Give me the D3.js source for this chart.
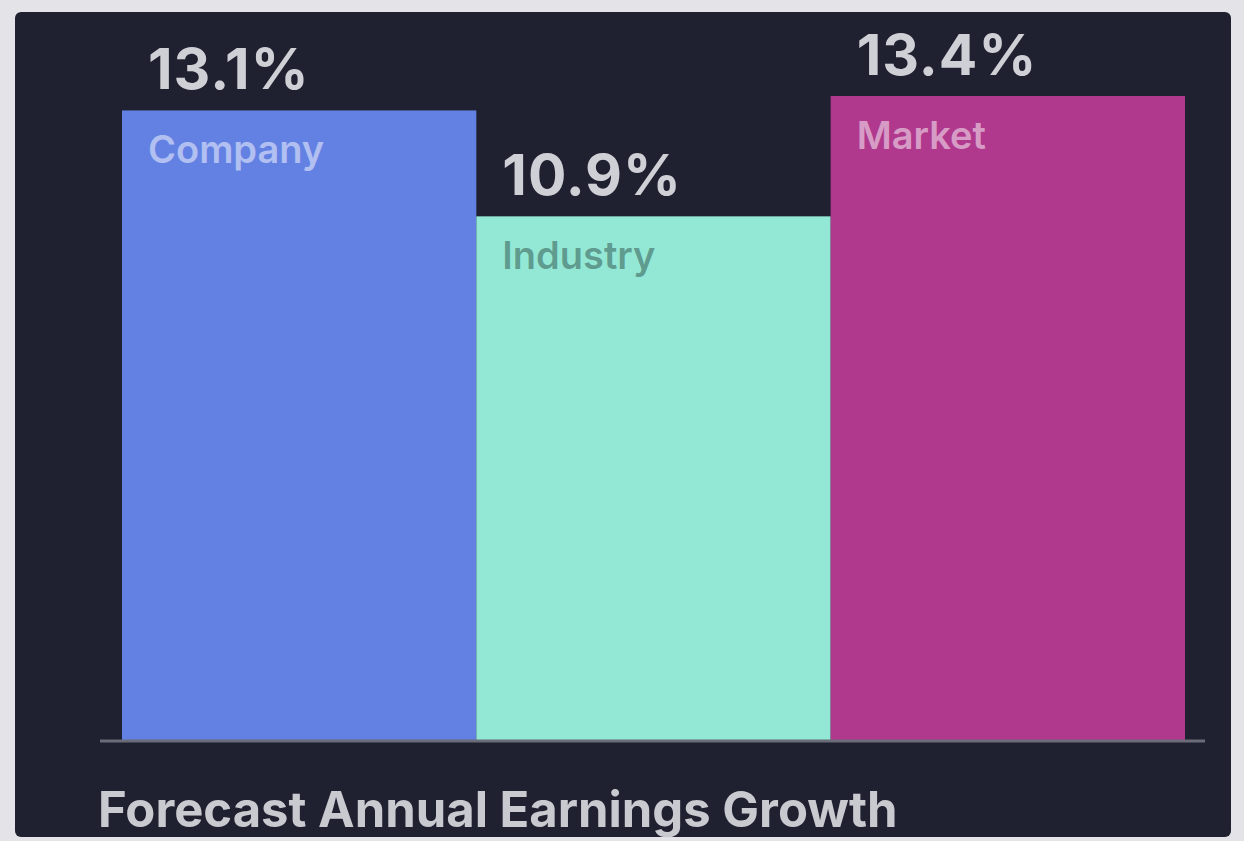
<!DOCTYPE html>
<html>
<head>
<meta charset="utf-8">
<script src="https://cdn.jsdelivr.net/npm/d3@7/dist/d3.min.js"></script>
<style>
  html, body { margin: 0; padding: 0; background: #e4e4e8; }
  svg { display: block; }
</style>
</head>
<body>
<svg id="chart" width="1244" height="841"></svg>
<script>
// Forecast annual earnings growth, % per year
const categories = ["Company", "Industry", "Market"];
const growthValues = [13.1, 10.9, 13.4];
const valueLabels = ["13.1%", "10.9%", "13.4%"];
const barColors = ["#6381e3", "#93e8d5", "#b0398e"];
const nameColors = ["rgba(255,255,255,0.5)", "rgba(30,60,55,0.45)", "rgba(255,255,255,0.5)"];
const chartTitle = "Forecast Annual Earnings Growth";

const W = 1244, H = 841;
const svg = d3.select("#chart");
const font = "Inter, 'Open Sans', Roboto, sans-serif";

// dark card
svg.append("rect")
  .attr("x", 15).attr("y", 12)
  .attr("width", W - 28).attr("height", H - 16)
  .attr("rx", 6)
  .attr("fill", "#1f2130");

const x = d3.scaleBand()
  .domain(categories)
  .range([122, 1185])
  .paddingInner(0);

const y = d3.scaleLinear()
  .domain([0, d3.max(growthValues)])
  .range([741, 96]);

const rows = categories.map((c, i) => ({
  name: c, value: growthValues[i], label: valueLabels[i],
  color: barColors[i], nameColor: nameColors[i]
}));

// bars
svg.append("g").selectAll("rect")
  .data(rows)
  .join("rect")
  .attr("x", d => x(d.name))
  .attr("y", d => y(d.value))
  .attr("width", x.bandwidth())
  .attr("height", d => y(0) - y(d.value))
  .attr("fill", d => d.color);

// baseline
const axis = d3.axisBottom(x).tickSize(0).tickFormat("");
const axisG = svg.append("g")
  .attr("transform", `translate(0,${y(0)})`)
  .call(axis);
axisG.select(".domain")
  .attr("d", "M100,0H1205")
  .attr("stroke", "#6a6c78")
  .attr("stroke-width", 3);

// value labels above bars
svg.append("g").selectAll("text")
  .data(rows)
  .join("text")
  .attr("x", d => x(d.name) + 26)
  .attr("y", d => y(d.value) - 21)
  .attr("font-family", font)
  .attr("font-weight", 700)
  .attr("font-size", 57)
  .attr("letter-spacing", 1)
  .attr("fill", "#cfd0d6")
  .text(d => d.label);

// category names inside bars
svg.append("g").selectAll("text")
  .data(rows)
  .join("text")
  .attr("x", d => x(d.name) + 26)
  .attr("y", d => y(d.value) + 53)
  .attr("font-family", font)
  .attr("font-weight", 600)
  .attr("font-size", 38)
  .attr("fill", d => d.nameColor)
  .text(d => d.name);

// title
svg.append("text")
  .attr("x", 98)
  .attr("y", 827)
  .attr("font-family", font)
  .attr("font-weight", 700)
  .attr("font-size", 49)
  .attr("fill", "#c9cad0")
  .text(chartTitle);
</script>
</body>
</html>
